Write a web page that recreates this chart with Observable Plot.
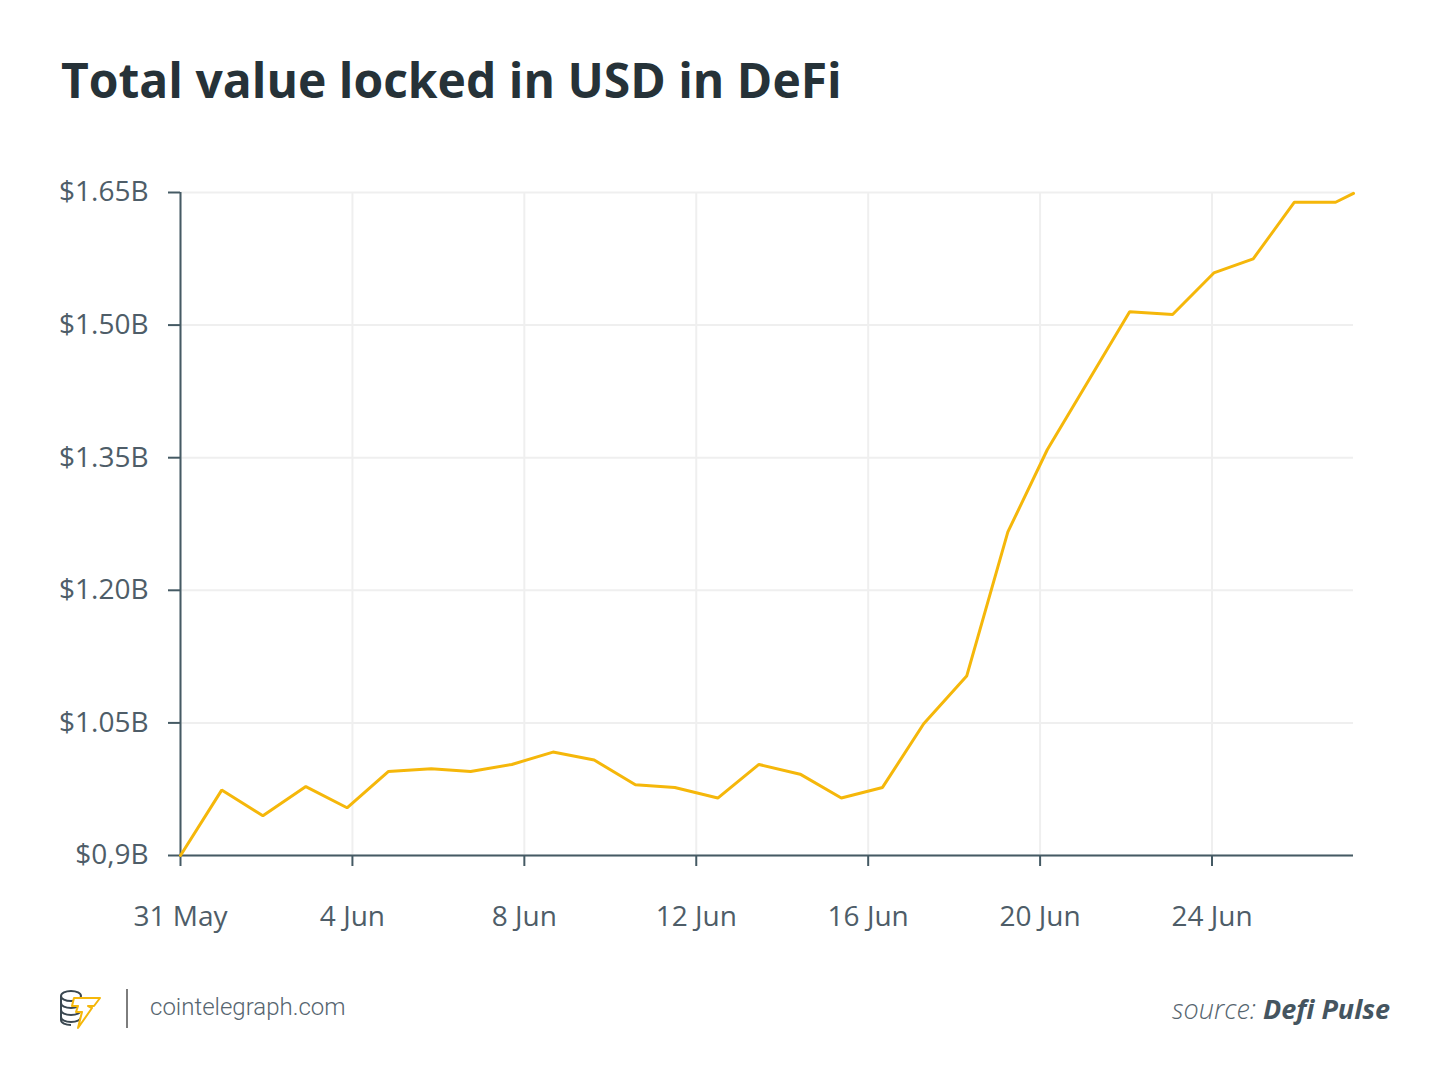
<!DOCTYPE html>
<html>
<head>
<meta charset="utf-8">
<script src="https://cdn.jsdelivr.net/npm/d3@7"></script>
<script src="https://cdn.jsdelivr.net/npm/@observablehq/plot@0.6"></script>
<style>
  html, body { margin: 0; padding: 0; background: #fff; }
  #wrap { position: relative; width: 1450px; height: 1089px; overflow: hidden; font-family: "Open Sans", sans-serif; }
  #title { position: absolute; left: 61px; top: 56px; margin: 0; font-size: 48px; line-height: 1; font-weight: 700; color: #263238; white-space: nowrap; }
  #chart { position: absolute; left: 0; top: 150px; }
  #logo { position: absolute; left: 58px; top: 988px; }
  #sep { position: absolute; left: 126px; top: 989px; width: 2px; height: 39px; background: #7d7d7d; }
  #site { position: absolute; left: 150px; top: 995px; font-family: Roboto, sans-serif; font-weight: 300; font-size: 24px; line-height: 1; color: #56656f; }
  #source { position: absolute; right: 60px; top: 995px; font-size: 27px; line-height: 1; font-style: italic; font-weight: 300; color: #55646e; white-space: nowrap; }
  #source b { font-weight: 700; color: #455560; }
</style>
</head>
<body>
<div id="wrap">
  <h1 id="title">Total value locked in USD in DeFi</h1>
  <div id="chart"></div>
  <svg id="logo" width="48" height="42" viewBox="0 0 48 42">
    <g fill="none" stroke="#3a4750" stroke-width="2">
      <ellipse cx="13" cy="8" rx="10" ry="5"/>
      <path d="M3 8v7c0 3 4.5 5 10 5s10-2 10-5"/>
      <path d="M3 15v7c0 3 4.5 5 10 5s10-2 10-5"/>
      <path d="M3 22v7c0 3 4.5 5 10 5s10-2 10-5"/>
      <path d="M3 29v3c0 3 4.5 5 10 5"/>
    </g>
    <path d="M16 10h26l-6 8h-6l4 2-14 20 4-16h-6l2-6h-6z" fill="#fff" stroke="#f5b70a" stroke-width="2" stroke-linejoin="round"/>
  </svg>
  <div id="sep"></div>
  <div id="site">cointelegraph.com</div>
  <div id="source">source: <b>Defi Pulse</b></div>
</div>
<script>
// Data (values in billions of USD)
const dates = [
  "2020-05-31T00:00Z", "2020-05-31T23:00Z", "2020-06-01T22:00Z", "2020-06-02T22:00Z",
  "2020-06-03T21:00Z", "2020-06-04T20:00Z", "2020-06-05T20:00Z", "2020-06-06T18:00Z",
  "2020-06-07T17:00Z", "2020-06-08T16:00Z", "2020-06-09T15:00Z", "2020-06-10T14:00Z",
  "2020-06-11T12:00Z", "2020-06-12T12:00Z", "2020-06-13T11:00Z", "2020-06-14T10:00Z",
  "2020-06-15T09:00Z", "2020-06-16T08:00Z", "2020-06-17T07:00Z", "2020-06-18T07:00Z",
  "2020-06-19T06:00Z", "2020-06-20T04:00Z", "2020-06-21T03:00Z", "2020-06-22T02:00Z",
  "2020-06-23T02:00Z", "2020-06-24T01:00Z", "2020-06-24T23:00Z", "2020-06-25T22:00Z",
  "2020-06-26T21:00Z", "2020-06-27T07:00Z"
];
const tvl = [
  0.900, 0.974, 0.945, 0.978, 0.954, 0.995, 0.998, 0.995,
  1.003, 1.017, 1.008, 0.980, 0.977, 0.965, 1.003, 0.992,
  0.965, 0.977, 1.049, 1.103, 1.266, 1.359, 1.437, 1.515,
  1.512, 1.559, 1.575, 1.639, 1.639, 1.649
];
const xDomain = ["2020-05-31T00:00Z", "2020-06-27T07:00Z"];
const yDomain = [0.9, 1.65];
const xTickDates = ["2020-05-31T00:00Z", "2020-06-04T00:00Z", "2020-06-08T00:00Z", "2020-06-12T00:00Z", "2020-06-16T00:00Z", "2020-06-20T00:00Z", "2020-06-24T00:00Z"];
const xTickLabels = ["31 May", "4 Jun", "8 Jun", "12 Jun", "16 Jun", "20 Jun", "24 Jun"];
const yTickValues = [0.9, 1.05, 1.2, 1.35, 1.5, 1.65];
const yTickLabels = ["$0,9B", "$1.05B", "$1.20B", "$1.35B", "$1.50B", "$1.65B"];

const parse = s => new Date(s);
const data = dates.map((d, i) => ({date: parse(d), value: tvl[i]}));
const xTicks = xTickDates.map(parse);
const xLabelMap = new Map(xTicks.map((d, i) => [d.getTime(), xTickLabels[i]]));
const yLabelMap = new Map(yTickValues.map((v, i) => [v, yTickLabels[i]]));

const axisColor = "#455a64";
const gridColor = "#efefef";
const textColor = "#4e5d68";

const chart = Plot.plot({
  width: 1450,
  height: 810,
  marginLeft: 180,
  marginRight: 97,
  marginTop: 42,
  marginBottom: 105,
  style: {fontFamily: '"Open Sans", sans-serif', fontSize: "28px", color: textColor, background: "transparent", overflow: "visible"},
  x: {type: "utc", domain: xDomain.map(parse)},
  y: {domain: yDomain},
  marks: [
    Plot.gridX(xTicks, {stroke: gridColor, strokeOpacity: 1, strokeWidth: 2}),
    Plot.gridY(yTickValues, {stroke: gridColor, strokeOpacity: 1, strokeWidth: 2}),
    Plot.axisY(yTickValues, {
      tickFormat: v => yLabelMap.get(v), tickSize: 12, tickPadding: 20,
      stroke: axisColor, strokeWidth: 2, fill: textColor, label: null
    }),
    Plot.axisX(xTicks, {
      tickFormat: d => xLabelMap.get(d.getTime()), tickSize: 11, tickPadding: 40,
      stroke: axisColor, strokeWidth: 2, fill: textColor, label: null
    }),
    Plot.ruleX([parse(xDomain[0])], {stroke: axisColor, strokeWidth: 2}),
    Plot.ruleY([yDomain[0]], {stroke: axisColor, strokeWidth: 2}),
    Plot.line(data, {x: "date", y: "value", stroke: "#f5b70a", strokeWidth: 3, strokeLinejoin: "miter"})
  ]
});
document.getElementById("chart").appendChild(chart);
</script>
</body>
</html>
